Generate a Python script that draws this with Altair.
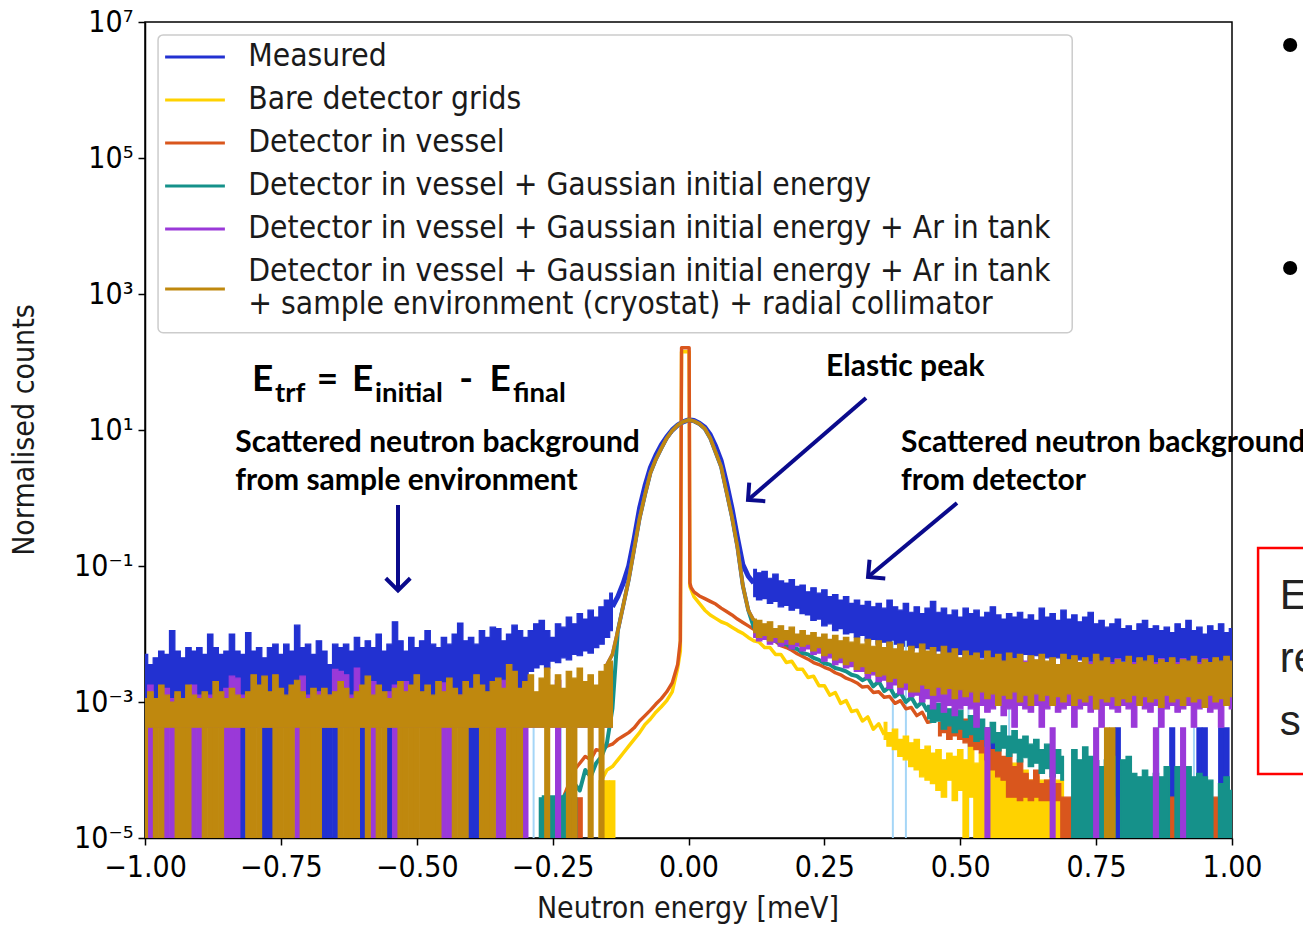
import altair as alt
import pandas as pd

# ------------------------------------------------------------------
# Values are log10(normalised counts)
# ------------------------------------------------------------------
BOTTOM = -6.0       # zero-count bins fall below the log axis
GAP = -6.5          # nothing drawn in that bin
FLOOR = -3.37       # one-count level: Measured / +Ar / full model
FLOOR_VESSEL = -4.40
FLOOR_GAUSS = -4.40
FLOOR_BARE = -4.15

X_LEFT = [round(-1.00 + 0.01 * i, 2) for i in range(87)]    # bins -1.00 ... -0.14
X_RIGHT = [round(0.12 + 0.01 * i, 2) for i in range(89)]    # bins  0.12 ...  1.00

# ---- Measured ----
BLUE_LEFT_HI = [-2.30, -2.45, -2.35, -2.25, -2.30, -1.95, -2.25, -2.35, -2.20, -2.25,
                -2.20, -2.30, -2.00, -2.20, -2.30, -2.25, -2.00, -2.25, -2.30, -1.98,
                -2.25, -2.20, -2.35, -2.20, -2.15, -2.30, -2.15, -2.25, -1.87, -2.20,
                -2.15, -2.30, -2.10, -2.25, -2.45, -2.15, -2.20, -2.15, -2.25, -2.05,
                -2.20, -2.10, -2.20, -2.00, -2.25, -2.15, -1.82, -2.10, -2.25, -2.05,
                -2.20, -2.10, -1.95, -2.15, -2.20, -2.05, -2.15, -2.00, -1.84, -2.10,
                -2.05, -2.15, -1.95, -2.05, -1.90, -1.92, -2.10, -2.00, -1.87, -1.95,
                -2.05, -1.95, -1.85, -1.80, -1.95, -2.05, -1.85, -1.90, -1.75, -1.85,
                -1.70, -1.78, -1.65, -1.75, -1.60, -1.50, -1.40]
BLUE_LEFT_LO = [FLOOR] * 71 + [-2.55, -2.50, -2.45, -2.50, -2.40, -2.42, -2.35, -2.38,
                               -2.30, -2.32, -2.25, -2.28, -2.20, -2.15, -2.05, -1.95]
BLUE_RIGHT_HI = [-1.05, -1.10, -1.08, -1.18, -1.12, -1.22, -1.25, -1.20, -1.30, -1.28,
                 -1.38, -1.32, -1.40, -1.35, -1.45, -1.42, -1.50, -1.45, -1.55, -1.50,
                 -1.58, -1.52, -1.60, -1.55, -1.62, -1.50, -1.60, -1.65, -1.55, -1.68,
                 -1.60, -1.70, -1.62, -1.52, -1.68, -1.62, -1.72, -1.65, -1.75, -1.62,
                 -1.70, -1.65, -1.75, -1.68, -1.60, -1.72, -1.78, -1.70, -1.75, -1.68,
                 -1.78, -1.72, -1.80, -1.62, -1.75, -1.70, -1.80, -1.65, -1.78, -1.72,
                 -1.82, -1.75, -1.68, -1.85, -1.80, -1.90, -1.85, -1.78, -1.92, -1.88,
                 -1.95, -1.85, -1.80, -1.92, -1.88, -1.95, -1.90, -1.98, -1.85, -1.92,
                 -1.80, -1.95, -1.90, -2.00, -1.88, -1.95, -1.85, -1.98, -1.92]
BLUE_RIGHT_LO = [-1.45, -1.50, -1.48, -1.55, -1.52, -1.60, -1.58, -1.65, -1.62, -1.70,
                 -1.72, -1.80, -1.78, -1.88, -1.85, -1.95, -1.92, -2.00, -1.98, -2.05,
                 -2.02, -2.10, -2.08, -2.15, -2.12, -2.18, -2.15, -2.22, -2.18, -2.25,
                 -2.20, -2.28, -2.22, -2.30, -2.25, -2.32, -2.28, -2.35, -2.30, -2.38,
                 -2.32, -2.40, -2.35, -2.42, -2.38, -2.45, -2.40, -2.45, -2.42, -2.48,
                 -2.30, -2.38, -2.32, -2.40, -2.35, -2.42, -2.35, -2.40, -2.38, -2.45,
                 -2.38, -2.42, -2.40, -2.45, -2.40, -2.48, -2.42, -2.45, -2.40, -2.48,
                 -2.42, -2.50, -2.45, -2.48, -2.42, -2.50, -2.45, -2.48, -2.42, -2.50,
                 -2.45, -2.48, -2.42, -2.50, -2.45, -2.48, -2.42, -2.50, -2.45]
BLUE_PEAK_X = [round(-0.14 + 0.01 * i, 2) for i in range(27)]   # -0.14 ... 0.12
BLUE_PEAK = [-1.60, -1.45, -1.25, -1.00, -0.60, -0.15, 0.18, 0.45, 0.63, 0.78,
             0.90, 1.00, 1.07, 1.12, 1.15, 1.14, 1.10, 1.04, 0.93, 0.76,
             0.55, 0.22, -0.15, -0.58, -0.98, -1.15, -1.25]
BLUE_ZERO = [-0.82, -0.78, -0.77, -0.67, -0.66, -0.65, -0.60, -0.55, -0.40, -0.39,
             0.56, 0.79, 0.89, 0.94, 0.95, 0.98, 0.99]
LIGHT_X = [-0.79, -0.35, -0.285, -0.235, 0.376, 0.40, 0.515, 0.59, 0.865, 0.93]
LIGHT_TOP = [-3.37, -3.37, -3.37, -3.37, -2.10, -2.10, -2.40, -2.40, -2.50, -2.50]

# ---- shared simulated Gaussian elastic line (teal / purple / gold) ----
GAUSS_X = [round(-0.15 + 0.01 * i, 2) for i in range(28)]      # -0.15 ... 0.12
GAUSS = [-2.45, -2.30, -1.95, -1.58, -1.20, -0.75, -0.30, 0.05, 0.37, 0.57,
         0.73, 0.88, 0.99, 1.07, 1.12, 1.15, 1.13, 1.09, 1.02, 0.88,
         0.67, 0.46, 0.09, -0.28, -0.72, -1.29, -1.65, -1.80]

# ---- elastic spike of the bare / vessel simulations ----
SPIKE_X = [-0.015, -0.0128, 0.0012, 0.0025]

# ---- Bare detector grids ----
YELLOW_LEFT_X = [round(-0.16 + 0.01 * i, 2) for i in range(15)]  # -0.16 ... -0.02
YELLOW_LEFT = [-4.15, -4.00, -3.95, -3.85, -3.75, -3.65, -3.55, -3.45, -3.33, -3.25,
               -3.15, -3.07, -2.98, -2.85, -2.50]
YELLOW_SPIKE = [-2.25, 2.15, 2.15, -1.30]
YELLOW_RIGHT_X = [0.005] + [round(0.01 * i, 2) for i in range(1, 37)]   # 0.005, 0.01 ... 0.36
YELLOW_RIGHT = [-1.35,
                -1.45, -1.55, -1.65, -1.72, -1.77, -1.82, -1.85, -1.90, -1.95, -1.99,
                -2.05, -2.10, -2.12, -2.20, -2.20, -2.30, -2.30, -2.42, -2.40, -2.52,
                -2.52, -2.64, -2.62, -2.76, -2.76, -2.90, -2.86, -3.02, -2.98, -3.14,
                -3.12, -3.28, -3.22, -3.40, -3.32, -3.48]
YELLOW_BAND_X = [round(0.36 + 0.01 * i, 2) for i in range(34)]     # 0.36 ... 0.69
YELLOW_BAND_HI = [-3.30, -3.45, -3.40, -3.55, -3.50, -3.60, -3.55, -3.70, -3.65, -3.75,
                  -3.70, -3.85, -3.75, -3.80, -3.70, -3.85, -3.60, -3.90, -3.75, -3.95,
                  -3.80, -4.00, -3.85, -4.10, -3.90, -4.15, -4.00, -4.15, -4.10, -4.15,
                  -4.15, -4.10, -4.15, -4.15]
YELLOW_BAND_LO = [-3.55, -3.65, -3.70, -3.80, -3.85, -3.95, -4.00, -4.10, -4.15, -4.20,
                  -4.30, -4.40, -4.15, -4.45, -4.30, BOTTOM, -4.40, BOTTOM, BOTTOM, BOTTOM,
                  BOTTOM, BOTTOM, BOTTOM, BOTTOM, BOTTOM, BOTTOM, BOTTOM, BOTTOM, BOTTOM, BOTTOM,
                  BOTTOM, BOTTOM, BOTTOM, BOTTOM]
YELLOW_ZERO = [-0.16, -0.15, -0.14]

# ---- Detector in vessel ----
ORANGE_LEFT_X = [round(-0.23 + 0.01 * i, 2) for i in range(22)]   # -0.23 ... -0.02
ORANGE_LEFT = [-4.40, -4.20, -4.00, -3.90, -3.80, -3.85, -3.70, -3.72, -3.65, -3.62,
               -3.55, -3.50, -3.45, -3.38, -3.28, -3.20, -3.12, -3.03, -2.95, -2.85,
               -2.72, -2.45]
ORANGE_SPIKE = [-2.10, 2.21, 2.21, -1.25]
ORANGE_RIGHT_X = [0.005] + [round(0.01 * i, 2) for i in range(1, 46)]   # 0.005, 0.01 ... 0.45
ORANGE_RIGHT = [-1.32,
                -1.38, -1.44, -1.48, -1.52, -1.56, -1.62, -1.67, -1.72, -1.78, -1.83,
                -1.88, -1.93, -1.97, -2.02, -2.06, -2.11, -2.17, -2.20, -2.24, -2.29,
                -2.33, -2.37, -2.42, -2.45, -2.49, -2.52, -2.57, -2.60, -2.65, -2.68,
                -2.72, -2.78, -2.77, -2.86, -2.85, -2.93, -2.92, -3.02, -2.98, -3.10,
                -3.08, -3.20, -3.15, -3.30, -3.28]
ORANGE_BAND_X = [round(0.46 + 0.01 * i, 2) for i in range(55)]    # 0.46 ... 1.00
ORANGE_BAND_HI = [-3.30, -3.20, -3.35, -3.10, -3.30, -3.25, -3.40, -3.30, -3.50, -3.45,
                  -3.70, -3.60, -3.80, -3.75, -3.95, -3.85, -4.05, -4.15, -4.00, -4.20,
                  -4.15, -4.30, -4.20, -4.40, -4.40, -4.40, -4.40, -4.40, -4.40, -4.40,
                  -4.40, -4.40, -4.40, GAP, -4.40, -4.40, -4.40, -4.40, -4.40, -4.40,
                  -4.40, -4.40, -4.40, -4.40, -4.40, -4.40, -4.40, -4.40, -4.40, -4.40,
                  -4.40, -4.40, -4.40, -4.40, -4.40]
ORANGE_BAND_LO = [-3.50, -3.45, -3.55, -3.50, -3.55, -3.60, -3.65, -3.70, -3.75, -3.85,
                  -4.00, -4.10, -4.15, -4.40, -4.40, -4.45, -4.40, -4.45, -4.40, -4.45,
                  -4.45, -4.45, -4.45] + [BOTTOM] * 32
ORANGE_ZERO = [-0.24, -0.23, -0.22, -0.20]

# ---- Detector in vessel + Gaussian initial energy ----
TEAL_LEFT_X = [round(-0.27 + 0.01 * i, 2) for i in range(14)]     # -0.27 ... -0.14
TEAL_LEFT = [-4.40, -4.40, -4.40, -4.40, -4.40, -4.30, -4.20, -4.30, -4.00, -4.10,
             -3.90, -3.80, -3.60, -3.10]
TEAL_RIGHT_X = [round(0.12 + 0.01 * i, 2) for i in range(33)]     # 0.12 ... 0.44
TEAL_RIGHT = [-1.90, -1.98, -2.02, -2.05, -2.10, -2.13, -2.15, -2.20, -2.22, -2.28,
              -2.30, -2.35, -2.38, -2.43, -2.45, -2.50, -2.52, -2.55, -2.60, -2.62,
              -2.68, -2.64, -2.77, -2.70, -2.84, -2.78, -2.92, -2.86, -3.00, -2.93,
              -3.07, -3.00, -3.14]
TEAL_BAND_X = [round(0.44 + 0.01 * i, 2) for i in range(26)]      # 0.44 ... 0.69
TEAL_BAND_HI = [-3.05, -3.10, -3.02, -3.15, -3.10, -3.20, -3.12, -3.28, -3.20, -3.30,
                -3.25, -3.38, -3.30, -3.45, -3.35, -3.50, -3.42, -3.55, -3.50, -3.62,
                -3.55, -3.70, -3.62, -3.75, -3.70, -3.80]
TEAL_BAND_LO = [-3.25, -3.30, -3.28, -3.40, -3.35, -3.45, -3.40, -3.52, -3.48, -3.58,
                -3.55, -3.65, -3.60, -3.72, -3.68, -3.80, -3.75, -3.88, -3.82, -3.95,
                -3.90, -4.05, -3.98, -4.10, -4.05, -4.15]
TEAL_FAR_X = [round(0.70 + 0.01 * i, 2) for i in range(31)]       # 0.70 ... 1.00
TEAL_FAR_HI = [GAP, -3.70, -3.85, -3.66, -3.80, -3.86, -3.95, -3.85, -3.80, GAP,
               -3.85, -3.80, -4.05, -4.10, -4.00, -4.10, -4.05, -4.10, -3.95, GAP,
               -3.95, -4.00, -3.95, -4.10, -4.05, -4.10, -4.15, GAP, -4.20, -4.10, -4.30]
TEAL_ZERO = [-0.31, -0.27, -0.26, -0.25, -0.24, -0.23, -0.21]

# ---- + Ar in tank ----
PURPLE_LEFT_HI = [-2.95, -2.75, -2.95, -2.90, -2.80, -2.95, -2.90, -2.95, -2.85, -2.75,
                  -2.90, -2.95, -2.90, -2.95, -2.90, -2.80, -2.62, -2.65, -2.90, -2.95,
                  -2.90, -2.85, -2.95, -2.90, -2.95, -2.90, -2.95, -2.85, -2.75, -2.62,
                  -2.90, -2.95, -2.85, -2.95, -2.90, -2.52, -2.55, -2.60, -2.90, -2.50,
                  -2.85, -2.95, -2.70, -2.90, -2.95, -2.85, -2.75, -2.90, -2.70, -2.95,
                  -2.90, -2.95, -2.85, -2.95, -2.90, -2.72, -2.80, -2.95, -2.90, -2.95,
                  -2.85, -2.90, -2.95, -2.90, -2.95, -2.85, -2.68, -2.90, -2.95, -2.90,
                  -2.75, -2.90, -2.95, -2.90, -2.95, -2.85, -2.68, -2.90, -2.95, -2.90,
                  -2.85, -2.90, -2.95, -2.90, -2.85, -2.80, -2.60]
PURPLE_RIGHT_HI = [-1.85, -1.90, -1.92, -1.95, -2.00, -1.95, -2.05, -2.00, -2.10, -2.05,
                   -2.12, -2.10, -2.15, -2.12, -2.20, -2.15, -2.22, -2.18, -2.25, -2.20,
                   -2.28, -2.22, -2.30, -2.25, -2.32, -2.25, -2.35, -2.28, -2.38, -2.30,
                   -2.35, -2.30, -2.38, -2.32, -2.40, -2.30, -2.38, -2.32, -2.40, -2.35,
                   -2.42, -2.30, -2.40, -2.35, -2.45, -2.38, -2.42, -2.35, -2.45, -2.38,
                   -2.40, -2.35, -2.45, -2.38, -2.42, -2.36, -2.45, -2.38, -2.42, -2.35,
                   -2.45, -2.38, -2.42, -2.36, -2.45, -2.38, -2.42, -2.36, -2.45, -2.38,
                   -2.42, -2.36, -2.45, -2.38, -2.42, -2.36, -2.45, -2.38, -2.42, -2.36,
                   -2.45, -2.38, -2.42, -2.36, -2.45, -2.38, -2.42, -2.36, -2.45]
PURPLE_RIGHT_LO = [-2.05, -2.10, -2.08, -2.15, -2.12, -2.18, -2.15, -2.22, -2.18, -2.25,
                   -2.22, -2.30, -2.28, -2.40, -2.35, -2.45, -2.42, -2.50, -2.48, -2.55,
                   -2.55, -2.65, -2.60, -2.70, -2.68, -2.80, -2.75, -2.88, -2.82, -2.92,
                   -2.90, -3.00, -2.95, -3.10, -3.00, -3.15, -3.05, -3.20, -3.10, -3.05,
                   -3.10, -3.37, -3.05, -3.15, -3.10, -3.05, -3.20, -3.10, -3.37, -3.05,
                   -3.10, -3.15, -3.05, -3.37, -3.10, -3.05, -3.15, -3.10, -3.05, -3.37,
                   -3.10, -3.05, -3.15, -3.10, -3.37, -3.05, -3.10, -3.15, -3.05, -3.10,
                   -3.37, -3.05, -3.10, -3.15, -3.05, -3.37, -3.10, -3.05, -3.15, -3.10,
                   -3.05, -3.37, -3.10, -3.05, -3.15, -3.10, -3.37, -3.05, -3.10]
PURPLE_ZERO = [-0.99, -0.96, -0.95, -0.91, -0.90, -0.85, -0.84, -0.83, -0.72, -0.58,
               -0.54, -0.45, -0.44, -0.35, -0.34, -0.30, -0.24, 0.55, 0.67, 0.75, 0.86, 0.91]

# ---- + sample environment (cryostat) + radial collimator ----
GOLD_LEFT_HI = [-2.95, -2.85, -2.95, -2.75, -2.90, -3.00, -2.85, -2.95, -2.75, -2.90,
                -2.95, -2.85, -2.95, -2.70, -2.85, -2.95, -2.80, -2.90, -2.95, -2.85,
                -2.60, -2.75, -2.62, -2.85, -2.60, -2.80, -2.90, -2.75, -2.68, -2.85,
                -2.95, -2.80, -2.90, -2.80, -2.90, -2.85, -2.70, -2.80, -2.95, -2.85,
                -2.75, -2.62, -2.90, -2.75, -2.85, -2.95, -2.80, -2.70, -2.85, -2.75,
                -2.60, -2.85, -2.75, -2.90, -2.70, -2.85, -2.65, -2.80, -2.90, -2.70,
                -2.80, -2.60, -2.75, -2.85, -2.70, -2.65, -2.80, -2.45, -2.55, -2.80,
                -2.70, -2.60, -2.85, -2.65, -2.50, -2.75, -2.60, -2.80, -2.55, -2.65,
                -2.50, -2.70, -2.60, -2.75, -2.55, -2.45, -2.40]
GOLD_RIGHT_HI = [-1.78, -1.80, -1.85, -1.82, -1.92, -1.88, -1.95, -1.90, -2.00, -1.95,
                 -2.02, -1.98, -2.05, -2.00, -2.08, -2.02, -2.10, -2.05, -2.12, -2.06,
                 -2.15, -2.08, -2.18, -2.10, -2.20, -2.12, -2.22, -2.15, -2.25, -2.18,
                 -2.28, -2.15, -2.25, -2.20, -2.30, -2.18, -2.28, -2.22, -2.35, -2.25,
                 -2.32, -2.28, -2.38, -2.25, -2.35, -2.30, -2.40, -2.28, -2.36, -2.30,
                 -2.42, -2.32, -2.38, -2.30, -2.40, -2.35, -2.45, -2.30, -2.38, -2.32,
                 -2.42, -2.35, -2.45, -2.30, -2.40, -2.35, -2.45, -2.38, -2.42, -2.33,
                 -2.45, -2.35, -2.40, -2.32, -2.45, -2.38, -2.42, -2.35, -2.45, -2.38,
                 -2.40, -2.33, -2.45, -2.38, -2.42, -2.35, -2.40, -2.33, -2.40]
GOLD_RIGHT_LO = [-1.98, -2.05, -2.02, -2.10, -2.05, -2.12, -2.08, -2.15, -2.12, -2.18,
                 -2.15, -2.25, -2.20, -2.32, -2.28, -2.38, -2.35, -2.45, -2.40, -2.52,
                 -2.48, -2.58, -2.55, -2.62, -2.60, -2.70, -2.65, -2.78, -2.72, -2.85,
                 -2.85, -2.75, -2.80, -2.90, -2.78, -2.88, -2.80, -2.95, -2.82, -2.92,
                 -2.85, -3.00, -2.85, -2.95, -2.88, -3.05, -2.90, -2.95, -2.85, -3.00,
                 -2.90, -3.05, -2.88, -2.98, -2.90, -3.05, -2.92, -3.00, -2.88, -3.05,
                 -2.95, -3.00, -2.90, -3.10, -2.95, -3.00, -2.92, -3.05, -2.95, -3.00,
                 -2.90, -3.05, -2.92, -3.00, -2.95, -3.08, -2.90, -3.00, -2.95, -3.05,
                 -2.92, -3.00, -2.95, -3.08, -2.90, -3.00, -2.95, -3.05, -2.92]
GOLD_ZERO = [-1.00, -0.98, -0.97, -0.94, -0.93, -0.92, -0.89, -0.88, -0.87, -0.86,
             -0.81, -0.80, -0.79, -0.76, -0.75, -0.74, -0.73, -0.71, -0.70, -0.69, -0.68,
             -0.64, -0.63, -0.62, -0.61, -0.59, -0.57, -0.56, -0.53, -0.52, -0.51,
             -0.50, -0.49, -0.48, -0.47, -0.46, -0.43, -0.42, -0.41, -0.38, -0.37, -0.36,
             -0.33, -0.32, -0.31, -0.26, -0.22, -0.21, -0.18, -0.16, 0.77, 0.78]

SERIES = ["Measured",
          "Bare detector grids",
          "Detector in vessel",
          "Detector in vessel + Gaussian initial energy",
          "Detector in vessel + Gaussian initial energy + Ar in tank",
          "Detector in vessel + Gaussian initial energy + Ar in tank"]
SERIES_LINE2 = "+ sample environment (cryostat) + radial collimator"
COLORS = ["#2231d1", "#ffd200", "#d9561d", "#15918a", "#9a39d8", "#bf880e"]
LIGHT = "#a5d6f7"
NAVY = "#0a0a8c"

XTICKS = [-1.0, -0.75, -0.5, -0.25, 0.0, 0.25, 0.5, 0.75, 1.0]
YTICKS = [1e-5, 1e-3, 1e-1, 1e1, 1e3, 1e5, 1e7]

FONT = "DejaVu Sans Condensed, DejaVu Sans"
BOLD = "Lato"
SLIDE = "Liberation Sans"

# ------------------------------------------------------------------
def P(e):
    return 10.0 ** e


XS = alt.Scale(domain=[-1.0, 1.0], nice=False, zero=False)
YS = alt.Scale(type="log", domain=[1e-5, 1e7], nice=False)

YLAB = ("datum.value > 5e6 ? '10⁷' : datum.value > 5e4 ? '10⁵' : datum.value > 500 ? '10³' : "
        "datum.value > 5 ? '10¹' : datum.value > 0.05 ? '10⁻¹' : datum.value > 5e-4 ? '10⁻³' : '10⁻⁵'")
AX = dict(title=None, grid=False, labelFont=FONT, labelFontSize=30, labelColor="black",
          tickColor="black", tickSize=7, tickWidth=1.5, domainColor="black",
          domainWidth=1.5, labelOverlap=False)
XAXIS = alt.Axis(values=XTICKS, format=".2f", labelFlush=False, labelPadding=7, **AX)
YAXIS = alt.Axis(values=YTICKS, labelExpr=YLAB, labelPadding=5, **AX)


def xe(f="x"):
    return alt.X(f"{f}:Q", scale=XS, axis=XAXIS)


def ye(f="y"):
    return alt.Y(f"{f}:Q", scale=YS, axis=YAXIS)


def band(xs, hi, lo, color):
    assert len(xs) == len(hi) == len(lo), (len(xs), len(hi), len(lo))
    df = pd.DataFrame({"x": xs, "y": [P(v) for v in hi], "y2": [P(v) for v in lo]})
    return alt.Chart(df).mark_area(interpolate="step", color=color, stroke=color,
                                   strokeWidth=1.2, opacity=1, clip=True).encode(
        x=xe(), y=ye(), y2=alt.Y2("y2:Q"))


def line(xs, es, color, width):
    assert len(xs) == len(es), (len(xs), len(es))
    df = pd.DataFrame({"x": xs, "y": [P(v) for v in es]})
    return alt.Chart(df).mark_line(color=color, strokeWidth=width, clip=True,
                                   strokeJoin="round").encode(x=xe(), y=ye())


def drops(xs, floor, color):
    df = pd.DataFrame({"x": [v - 0.0056 for v in xs], "x2": [v + 0.0056 for v in xs]})
    df["y"] = P(BOTTOM)
    df["y2"] = P(floor)
    return alt.Chart(df).mark_rect(color=color, clip=True).encode(
        x=xe(), x2=alt.X2("x2:Q"), y=ye(), y2=alt.Y2("y2:Q"))


def text(rows, size, font=FONT, weight="normal", align="left", baseline="alphabetic",
         color="black", angle=0):
    df = pd.DataFrame(rows, columns=["x", "e", "t"])
    df["y"] = [P(v) for v in df["e"]]
    return alt.Chart(df).mark_text(font=font, fontSize=size, fontWeight=weight, align=align,
                                   baseline=baseline, color=color, angle=angle).encode(
        x=xe(), y=ye(), text="t:N")


layers = []

# Measured
c = COLORS[0]
layers += [band(X_LEFT, BLUE_LEFT_HI, BLUE_LEFT_LO, c),
           band(X_RIGHT, BLUE_RIGHT_HI, BLUE_RIGHT_LO, c),
           drops(BLUE_ZERO, FLOOR, c),
           line(BLUE_PEAK_X, BLUE_PEAK, c, 5)]
ldf = pd.DataFrame({"x": LIGHT_X, "y": P(BOTTOM), "y2": [P(v) for v in LIGHT_TOP]})
layers.append(alt.Chart(ldf).mark_rule(color=LIGHT, strokeWidth=2, clip=True).encode(
    x=xe(), y=ye(), y2=alt.Y2("y2:Q")))

# Bare detector grids
c = COLORS[1]
layers += [drops(YELLOW_ZERO, FLOOR_BARE, c),
           line(YELLOW_LEFT_X + SPIKE_X + YELLOW_RIGHT_X,
                YELLOW_LEFT + YELLOW_SPIKE + YELLOW_RIGHT, c, 3.5),
           band(YELLOW_BAND_X, YELLOW_BAND_HI, YELLOW_BAND_LO, c)]

# Detector in vessel
c = COLORS[2]
layers += [drops(ORANGE_ZERO, FLOOR_VESSEL, c),
           line(ORANGE_LEFT_X + SPIKE_X + ORANGE_RIGHT_X,
                ORANGE_LEFT + ORANGE_SPIKE + ORANGE_RIGHT, c, 3.4),
           band(ORANGE_BAND_X, ORANGE_BAND_HI, ORANGE_BAND_LO, c)]

# + Gaussian initial energy
c = COLORS[3]
g_x = [x for x in GAUSS_X if -0.13 <= x <= 0.11]
g_e = [e for x, e in zip(GAUSS_X, GAUSS) if -0.13 <= x <= 0.11]
layers += [drops(TEAL_ZERO, FLOOR_GAUSS, c),
           line(TEAL_LEFT_X + g_x + TEAL_RIGHT_X, TEAL_LEFT + g_e + TEAL_RIGHT, c, 4),
           band(TEAL_BAND_X, TEAL_BAND_HI, TEAL_BAND_LO, c),
           band(TEAL_FAR_X, TEAL_FAR_HI, [BOTTOM] * len(TEAL_FAR_X), c)]

# + Ar in tank
c = COLORS[4]
layers += [band(X_LEFT, PURPLE_LEFT_HI, [FLOOR] * len(X_LEFT), c),
           band(X_RIGHT, PURPLE_RIGHT_HI, PURPLE_RIGHT_LO, c),
           drops(PURPLE_ZERO, FLOOR, c),
           line(GAUSS_X, GAUSS, c, 3.5)]

# + sample environment + radial collimator
c = COLORS[5]
layers += [band(X_LEFT, GOLD_LEFT_HI, [FLOOR] * len(X_LEFT), c),
           band(X_RIGHT, GOLD_RIGHT_HI, GOLD_RIGHT_LO, c),
           drops(GOLD_ZERO, FLOOR, c),
           line(GAUSS_X, GAUSS, c, 3.5)]

# ---------------- legend (matplotlib style box) ----------------
layers.append(alt.Chart(pd.DataFrame({"x": [-0.976], "x2": [0.706], "y": [P(6.81)], "y2": [P(2.43)]}))
              .mark_rect(fill="white", stroke="#cccccc", strokeWidth=1.5, cornerRadius=5)
              .encode(x=xe(), x2=alt.X2("x2:Q"), y=ye(), y2=alt.Y2("y2:Q")))
LEG_E = [6.485, 5.853, 5.221, 4.588, 3.956, 3.074]
ldf = pd.DataFrame({"x": -0.963, "x2": -0.853, "y": [P(v) for v in LEG_E], "s": SERIES[:5] + ["Full"]})
layers.append(alt.Chart(ldf).mark_rule(strokeWidth=3).encode(
    x=xe(), x2=alt.X2("x2:Q"), y=ye(),
    color=alt.Color("s:N", scale=alt.Scale(domain=SERIES[:5] + ["Full"], range=COLORS), legend=None)))
layers.append(text([(-0.810, 6.485, SERIES[0]), (-0.810, 5.853, SERIES[1]),
                    (-0.810, 5.221, SERIES[2]), (-0.810, 4.588, SERIES[3]),
                    (-0.810, 3.956, SERIES[4]), (-0.810, 3.324, SERIES[5]),
                    (-0.810, 2.838, SERIES_LINE2)], 31.5, baseline="middle", color="#1a1a1a"))

# axis titles
layers.append(text([(-0.001, -6.17, "Neutron energy [meV]")], 30, align="center", color="#1a1a1a"))
layers.append(text([(-1.221, 1.0, "Normalised counts")], 30, align="center", baseline="middle",
                   color="#1a1a1a", angle=270))

# ---------------- slide annotations ----------------
layers.append(text([(-0.834, 0.676, "Scattered neutron background"),
                    (-0.834, 0.118, "from sample environment"),
                    (0.253, 1.794, "Elastic peak"),
                    (0.391, 0.676, "Scattered neutron background"),
                    (0.391, 0.118, "from detector")], 30, font=BOLD, weight="bold"))
layers.append(text([(-0.803, 1.574, "E"), (-0.684, 1.574, "="), (-0.619, 1.574, "E"),
                    (-0.422, 1.574, "-"), (-0.366, 1.574, "E")], 37, font=BOLD, weight="bold"))
layers.append(text([(-0.761, 1.41, "trf"), (-0.577, 1.41, "initial"), (-0.323, 1.41, "final")],
                   27.5, font=BOLD, weight="bold"))

ARROWS = pd.DataFrame({"x": [-0.5345, 0.3266, 0.494], "e": [-0.103, 1.471, -0.074],
                       "x2": [-0.5345, 0.1095, 0.3303], "e2": [-1.36, -0.029, -1.162],
                       "a": [90, 139, 140]})
ARROWS["y"] = [P(v) for v in ARROWS["e"]]
ARROWS["y2"] = [P(v) for v in ARROWS["e2"]]
layers.append(alt.Chart(ARROWS).mark_rule(color=NAVY, strokeWidth=4).encode(
    x=xe(), x2=alt.X2("x2:Q"), y=ye(), y2=alt.Y2("y2:Q")))
for _, r in ARROWS.iterrows():
    layers.append(alt.Chart(pd.DataFrame({"x": [r["x2"]], "y": [r["y2"]]})).mark_point(
        shape="M -1 -1 L 0 0 L -1 1", size=600, angle=float(r["a"]), filled=False,
        color=NAVY, strokeWidth=4, opacity=1).encode(x=xe(), y=ye()))

# slide content cut off at the right edge (as in the reference)
layers.append(alt.Chart(pd.DataFrame({"x": [1.107, 1.107], "y": [P(6.662), P(3.382)]})).mark_point(
    shape="circle", filled=True, size=200, color="black", opacity=1).encode(x=xe(), y=ye()))
layers.append(alt.Chart(pd.DataFrame({"x": [1.048], "x2": [1.25], "y": [P(-0.735)], "y2": [P(-4.059)]}))
              .mark_rect(fill="white", stroke="#ff0000", strokeWidth=2.5)
              .encode(x=xe(), x2=alt.X2("x2:Q"), y=ye(), y2=alt.Y2("y2:Q")))
layers.append(text([(1.088, -1.632, "E"), (1.088, -2.559, "re"), (1.088, -3.485, "s")], 42,
                   font=SLIDE, color="#222222"))

chart = alt.layer(*layers).properties(
    width=1087, height=816, autosize="none",
    padding={"left": 145, "top": 22, "right": 71, "bottom": 88},
).configure_view(stroke="black", strokeWidth=1.5)

chart.save("out.html", embed_options={"renderer": "svg", "actions": False})
